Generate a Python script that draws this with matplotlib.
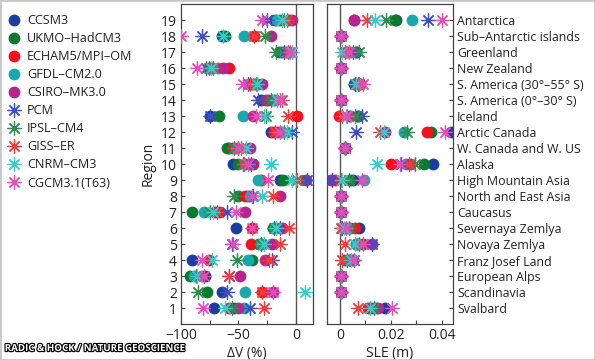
import numpy as np
import matplotlib
matplotlib.use("Agg")
import matplotlib.pyplot as plt
import matplotlib.patheffects as pe
from matplotlib.patches import Rectangle

plt.rcParams['font.family'] = ['Open Sans', 'DejaVu Sans']

# models (legend order)
models = ['CCSM3', 'UKMO\u2013HadCM3', 'ECHAM5/MPI\u2013OM', 'GFDL\u2013CM2.0', 'CSIRO\u2013MK3.0',
          'PCM', 'IPSL\u2013CM4', 'GISS\u2013ER', 'CNRM\u2013CM3', 'CGCM3.1(T63)']
colors = ['#1a3da0', '#0b7a2e', '#f5101e', '#17a9ae', '#b8238e',
          '#3d4fc2', '#2f8c4e', '#f03c3c', '#3cc8c8', '#e24fb8']
is_star = [False] * 5 + [True] * 5

regions = list(range(1, 20))
region_names = ['Svalbard', 'Scandinavia', 'European Alps', 'Franz Josef Land', 'Novaya Zemlya',
                'Severnaya Zemlya', 'Caucasus', 'North and East Asia', 'High Mountain Asia', 'Alaska',
                'W. Canada and W. US', 'Arctic Canada', 'Iceland', 'S. America (0\u00b0\u201330\u00b0 S)',
                'S. America (30\u00b0\u201355\u00b0 S)', 'New Zealand', 'Greenland', 'Sub\u2013Antarctic islands',
                'Antarctica']

# volume change (%) per region 1..19, one list per model
dv_ccsm3 = [-71, -64, -79, -90, -30, -52, -70, -42, -14, -55, -58, -22, -75, -30, -40, -76, -12, -64, -18]
dv_ukmo  = [-54, -77, -92, -38, -32, -20, -90, -50, -11, -50, -60, -14, -67, -20, -36, -74, -15, -62, -14]
dv_echam = [-58, -29, -82, -76, -39, -38, -67, -44, -30, -37, -55, -19,   1, -26, -38, -58,  -8, -36,  -6]
dv_gfdl  = [-45, -44, -89, -42, -30, -18, -80, -40, -33, -44, -52, -12, -46, -18, -33, -68,  -9, -45, -16]
dv_csiro = [-50, -20, -49, -27, -21, -12, -44, -14,   9, -40, -40, -16, -37, -24, -29, -63,  -6, -22,  -3]
dv_pcm   = [-40, -60, -58, -21, -56, -14, -60, -37,  10, -39, -50,  -3, -75, -33, -42, -78, -10, -82, -25]
dv_ipsl  = [-56, -85, -87, -51, -30, -19, -75, -54,   1, -46, -54, -10, -26, -22, -35, -76, -17, -27, -10]
dv_giss  = [-28, -29, -58, -23, -14,  -6, -69, -20,   0, -45, -48, -18,  -7, -12, -40, -72,  -7, -36,  -8]
dv_cnrm  = [-62,   8, -86, -73, -28, -17, -72, -29,  -3, -22, -43,  -8, -28, -16, -34, -74,  -3, -63, -12]
dv_cgcm  = [-81, -20, -80, -82, -55, -38, -52, -38, -24, -42, -50, -14, -35, -14, -46, -86,  -5, -100, -29]

# sea-level equivalent (m) per region 1..19
sle_ccsm3 = [0.0175, 0.0003, 0.0003, 0.0050, 0.0070, 0.0075, 0.0003, 0.0003, 0.0050, 0.0366, 0.0020, 0.0435, 0.0070, 0.0003, 0.0055, 0.0003, 0.0065, 0.0004, 0.0220]
sle_ukmo  = [0.0130, 0.0003, 0.0003, 0.0040, 0.0065, 0.0040, 0.0003, 0.0003, 0.0040, 0.0330, 0.0020, 0.0357, 0.0072, 0.0003, 0.0060, 0.0003, 0.0062, 0.0004, 0.0215]
sle_echam = [0.0110, 0.0003, 0.0003, 0.0020, 0.0092, 0.0058, 0.0003, 0.0003, -0.0020, 0.0199, 0.0020, 0.0340, -0.0002, 0.0003, 0.0080, 0.0003, 0.0030, 0.0004, 0.0055]
sle_gfdl  = [0.0140, 0.0003, 0.0003, 0.0035, 0.0068, 0.0030, 0.0003, 0.0003, 0.0095, 0.0260, 0.0020, 0.0252, 0.0040, 0.0003, 0.0070, 0.0003, 0.0040, 0.0004, 0.0284]
sle_csiro = [0.0150, 0.0003, 0.0003, 0.0040, 0.0125, 0.0020, 0.0003, 0.0003, -0.0035, 0.0275, 0.0020, 0.0178, 0.0040, 0.0003, 0.0080, 0.0003, 0.0025, 0.0004, 0.0056]
sle_pcm   = [0.0120, 0.0003, 0.0003, 0.0055, 0.0125, 0.0010, 0.0003, 0.0003, -0.0030, 0.0240, 0.0020, 0.0065, 0.0085, 0.0003, 0.0060, 0.0003, 0.0050, 0.0004, 0.0346]
sle_ipsl  = [0.0135, 0.0003, 0.0003, 0.0030, 0.0075, 0.0035, 0.0003, 0.0003, 0.0035, 0.0295, 0.0020, 0.0262, 0.0060, 0.0003, 0.0070, 0.0003, 0.0075, 0.0004, 0.0180]
sle_giss  = [0.0072, 0.0003, 0.0003, 0.0010, 0.0020, 0.0005, 0.0003, 0.0003, 0.0005, 0.0270, 0.0020, 0.0157, 0.0010, 0.0003, 0.0075, 0.0003, 0.0020, 0.0004, 0.0105]
sle_cnrm  = [0.0120, 0.0003, 0.0003, 0.0045, 0.0060, 0.0015, 0.0003, 0.0003, 0.0010, 0.0144, 0.0020, 0.0172, 0.0025, 0.0003, 0.0065, 0.0003, 0.0010, 0.0004, 0.0137]
sle_cgcm  = [0.0203, 0.0003, 0.0003, 0.0055, 0.0090, 0.0025, 0.0003, 0.0003, 0.0085, 0.0237, 0.0020, 0.0412, 0.0030, 0.0003, 0.0090, 0.0003, 0.0035, 0.0004, 0.0400]

dv_all = [dv_ccsm3, dv_ukmo, dv_echam, dv_gfdl, dv_csiro, dv_pcm, dv_ipsl, dv_giss, dv_cnrm, dv_cgcm]
sle_all = [sle_ccsm3, sle_ukmo, sle_echam, sle_gfdl, sle_csiro, sle_pcm, sle_ipsl, sle_giss, sle_cnrm, sle_cgcm]

fig = plt.figure(figsize=(5.95, 3.6), dpi=100)
ax1 = fig.add_axes([181 / 595, 36 / 360, 132 / 595, 320 / 360])
ax2 = fig.add_axes([327 / 595, 36 / 360, 126 / 595, 320 / 360])

star = (8, 2, 0)
handles = []
for ax, data in [(ax1, dv_all), (ax2, sle_all)]:
    ax.axvline(0, color='#555555', lw=1.0, zorder=1)
    # dots first, stars on top
    for k in range(10):
        if is_star[k]:
            h, = ax.plot(data[k], regions, ls='none', marker=star, ms=10, mew=0.9,
                         color=colors[k], zorder=3)
            ax.plot(data[k], regions, ls='none', marker='o', ms=2.5, mew=0,
                    color=colors[k], zorder=3)
        else:
            h, = ax.plot(data[k], regions, ls='none', marker='o', ms=8.5, mew=0,
                         color=colors[k], zorder=2)
        if ax is ax1:
            handles.append(h)

for ax in (ax1, ax2):
    ax.set_ylim(0, 20)
    for s in ax.spines.values():
        s.set_color('#444444')
        s.set_linewidth(0.9)
    ax.tick_params(direction='in', length=3, width=0.8, color='#444444',
                   labelsize=10, labelcolor='#222222', pad=3)
    ax.tick_params(which='minor', direction='in', length=3, width=0.8, color='#444444')

ax1.set_xlim(-100, 15)
ax1.set_xticks([-100, -50, 0])
ax1.set_xticklabels(['\u2212100', '\u221250', '0'])
ax1.set_xticks([-75, -25], minor=True)
ax1.set_yticks(regions)
ax1.set_ylabel('Region', fontsize=10, color='#222222', labelpad=4)
ax1.set_xlabel('\u0394V (%)', fontsize=10, color='#222222', labelpad=2)

ax2.set_xlim(-0.005, 0.0443)
ax2.set_xticks([0, 0.02, 0.04])
ax2.set_xticklabels(['0', '0.02', '0.04'])
ax2.set_xticks([0.01, 0.03], minor=True)
ax2.set_yticks(regions)
ax2.set_yticklabels(region_names, fontsize=8.9)
ax2.yaxis.tick_right()
ax2.set_xlabel('SLE (m)', fontsize=10, color='#222222', labelpad=2)

fig.legend(handles, models, loc='upper left', bbox_to_anchor=(0.005, 0.975),
           frameon=False, fontsize=9.1, labelspacing=0.40, handlelength=1.0,
           handletextpad=0.5, borderaxespad=0, labelcolor='#222222')

fig.text(0.008, 0.025, 'RADIC & HOCK / NATURE GEOSCIENCE', fontsize=7, fontweight='bold',
         color='white', path_effects=[pe.withStroke(linewidth=1.7, foreground='black')])

fig.patches.append(Rectangle((0, 0), 1, 1, transform=fig.transFigure, fill=False,
                             edgecolor='#c8c8c8', lw=2))

fig.savefig('out.png', dpi=100)
